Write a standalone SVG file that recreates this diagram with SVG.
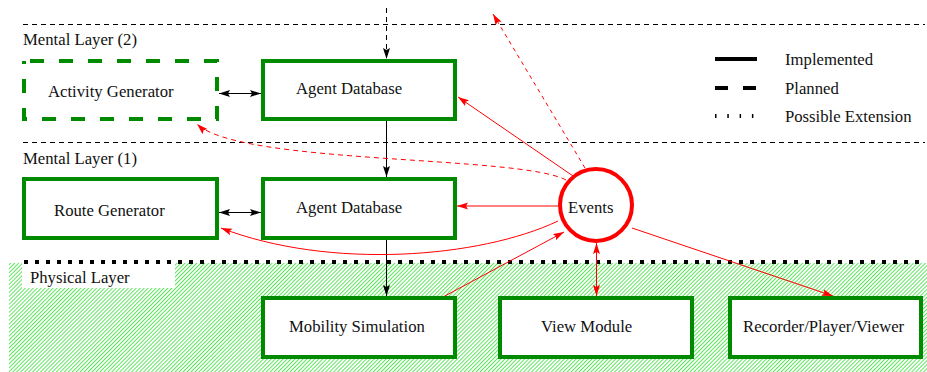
<svg xmlns="http://www.w3.org/2000/svg" width="927" height="372" viewBox="0 0 927 372">
  <style>
    .lbl { font-family: "Liberation Serif", "Times New Roman", serif; font-size: 16.7px; fill: #111; }
    .box { fill: #fff; stroke: #008a00; stroke-width: 4; }
    .plan { stroke-dasharray: 14 15; stroke-dashoffset: -6; }
    .sep { stroke: #000; stroke-width: 1; stroke-dasharray: 5 4; fill: none; }
    .blk { stroke: #000; stroke-width: 1; fill: none; }
    .red { stroke: #ff0000; stroke-width: 1; fill: none; }
  </style>
  <defs>
    <pattern id="hatch" patternUnits="userSpaceOnUse" width="2.8" height="10" patternTransform="rotate(45)">
      <line x1="0.5" y1="0" x2="0.5" y2="10" stroke="#2fe02f" stroke-width="0.8"/>
    </pattern>
    <marker id="ab" markerUnits="userSpaceOnUse" markerWidth="12" markerHeight="8" refX="11" refY="3.5" orient="auto-start-reverse">
      <path d="M0,0 L11,3.5 L0,7 L2,3.5 z" fill="#000"/>
    </marker>
    <marker id="ar" markerUnits="userSpaceOnUse" markerWidth="12" markerHeight="8" refX="11" refY="3.5" orient="auto-start-reverse">
      <path d="M0,0 L11,3.5 L0,7 L2,3.5 z" fill="#ff0000"/>
    </marker>
  </defs>

  <!-- physical layer background -->
  <rect x="9" y="263" width="918" height="109" fill="url(#hatch)"/>
  <rect x="22" y="263" width="153" height="25" fill="#fff"/>

  <!-- layer separators -->
  <line class="sep" x1="23" y1="24.5" x2="925" y2="24.5"/>
  <line class="sep" x1="23" y1="142.5" x2="925" y2="142.5"/>
  <line x1="24" y1="262" x2="925" y2="262" stroke="#000" stroke-width="4" stroke-dasharray="4 7"/>

  <text class="lbl" x="23" y="45">Mental Layer (2)</text>
  <text class="lbl" x="23" y="164">Mental Layer (1)</text>
  <text class="lbl" x="30" y="283">Physical Layer</text>

  <!-- legend -->
  <g id="legend">
    <line x1="715" y1="59" x2="757" y2="59" stroke="#000" stroke-width="4"/>
    <line x1="715" y1="88" x2="757" y2="88" stroke="#000" stroke-width="4" stroke-dasharray="13 15"/>
    <line x1="715" y1="116" x2="757" y2="116" stroke="#000" stroke-width="4" stroke-dasharray="1.5 10.8"/>
    <text class="lbl" x="785" y="65">Implemented</text>
    <text class="lbl" x="785" y="94">Planned</text>
    <text class="lbl" x="785" y="122">Possible Extension</text>
  </g>

  <!-- connectors -->
  <g id="connectors">
    <line class="sep" x1="386.5" y1="8" x2="386.5" y2="59" marker-end="url(#ab)"/>
    <line class="blk" x1="219" y1="93.5" x2="261" y2="93.5" marker-start="url(#ab)" marker-end="url(#ab)"/>
    <line class="blk" x1="386.5" y1="121" x2="386.5" y2="177" marker-end="url(#ab)"/>
    <line class="blk" x1="219" y1="212.5" x2="261" y2="212.5" marker-start="url(#ab)" marker-end="url(#ab)"/>
    <line class="blk" x1="386.5" y1="240" x2="386.5" y2="296" marker-end="url(#ab)"/>

    <line class="red" x1="558" y1="206" x2="457" y2="206" marker-end="url(#ar)"/>
    <line class="red" x1="573" y1="176" x2="458" y2="97" marker-end="url(#ar)"/>
    <line class="red" x1="585" y1="168" x2="493" y2="14" stroke-dasharray="4 4" marker-end="url(#ar)"/>
    <path class="red" d="M566,180 C520,155 240,165 197,124" stroke-dasharray="5 4" marker-end="url(#ar)"/>
    <path class="red" d="M558,221 C480,258 330,270 221,228" marker-end="url(#ar)"/>
    <line class="red" x1="443" y1="297" x2="564" y2="232" marker-end="url(#ar)"/>
    <line class="red" x1="596.5" y1="243" x2="596.5" y2="296" marker-start="url(#ar)" marker-end="url(#ar)"/>
    <line class="red" x1="632" y1="228" x2="833" y2="296" marker-end="url(#ar)"/>
  </g>

  <!-- nodes -->
  <g id="activity-generator">
    <rect class="box plan" x="24" y="61" width="193" height="58"/>
    <text class="lbl" x="48" y="97">Activity Generator</text>
  </g>
  <g id="agent-database-2">
    <rect class="box" x="263" y="61" width="192" height="58"/>
    <text class="lbl" x="296" y="94">Agent Database</text>
  </g>
  <g id="route-generator">
    <rect class="box" x="24" y="179" width="193" height="59"/>
    <text class="lbl" x="54" y="216">Route Generator</text>
  </g>
  <g id="agent-database-1">
    <rect class="box" x="263" y="179" width="192" height="59"/>
    <text class="lbl" x="296" y="213">Agent Database</text>
  </g>
  <g id="events">
    <circle cx="596" cy="205" r="36" fill="#fff" stroke="#ff0000" stroke-width="4"/>
    <text class="lbl" x="568" y="213">Events</text>
  </g>
  <g id="mobility-simulation">
    <rect class="box" x="263" y="298" width="192" height="59"/>
    <text class="lbl" x="289" y="332">Mobility Simulation</text>
  </g>
  <g id="view-module">
    <rect class="box" x="500" y="298" width="192" height="59"/>
    <text class="lbl" x="541" y="332">View Module</text>
  </g>
  <g id="recorder-player-viewer">
    <rect class="box" x="730" y="298" width="191" height="59"/>
    <text class="lbl" x="743" y="332">Recorder/Player/Viewer</text>
  </g>
</svg>
